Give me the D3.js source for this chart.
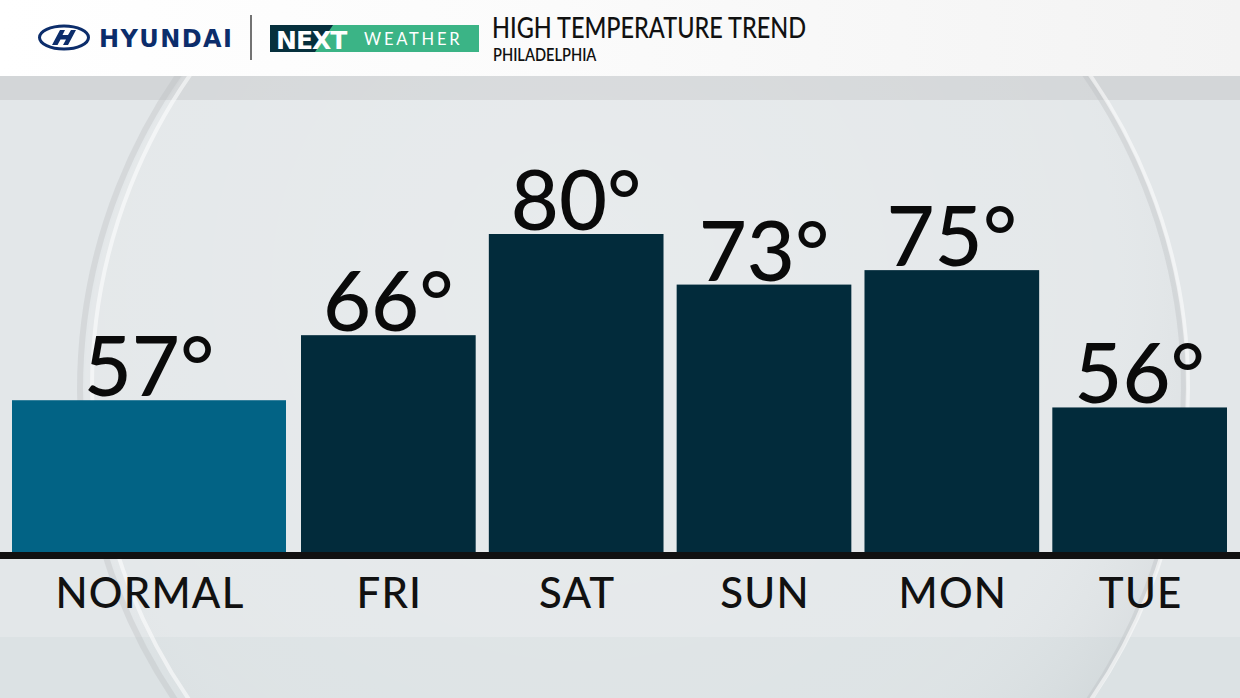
<!DOCTYPE html>
<html><head><meta charset="utf-8">
<script src="https://cdn.jsdelivr.net/npm/d3@7"></script>
<style>html,body{margin:0;padding:0;background:#e4e8ea;overflow:hidden}svg{display:block}</style>
</head><body><svg id="c" width="1240" height="698"></svg>
<script>
const categories = ["NORMAL","FRI","SAT","SUN","MON","TUE"];
const highs = [57,66,80,73,75,56];
const valueLabels = highs.map(v => v + "°");
const title = "HIGH TEMPERATURE TREND";
const subtitle = "PHILADELPHIA";

const W = 1240, H = 698;
const svg = d3.select("#c");
const defs = svg.append("defs");

const hg = defs.append("linearGradient").attr("id","hdr").attr("x1","0").attr("x2","1");
hg.append("stop").attr("offset","0").attr("stop-color","#ffffff");
hg.append("stop").attr("offset","0.45").attr("stop-color","#fbfbfb");
hg.append("stop").attr("offset","1").attr("stop-color","#f3f3f3");

const rg = defs.append("radialGradient").attr("id","glass").attr("cx","0.45").attr("cy","0.4").attr("r","0.6");
rg.append("stop").attr("offset","0").attr("stop-color","#ffffff").attr("stop-opacity",0.18);
rg.append("stop").attr("offset","0.8").attr("stop-color","#ffffff").attr("stop-opacity",0.05);
rg.append("stop").attr("offset","1").attr("stop-color","#9aa2a6").attr("stop-opacity",0.12);

defs.append("clipPath").attr("id","below").append("rect").attr("x",0).attr("y",76).attr("width",W).attr("height",H-76);

// background regions
svg.append("rect").attr("x",0).attr("y",76).attr("width",W).attr("height",24).attr("fill","#d3d6d8");
svg.append("rect").attr("x",0).attr("y",100).attr("width",W).attr("height",537).attr("fill","#e3e7e9");
svg.append("rect").attr("x",0).attr("y",637).attr("width",W).attr("height",H-637).attr("fill","#dce2e4");

// glass sphere decoration
const gs = svg.append("g").attr("clip-path","url(#below)");
gs.append("circle").attr("cx",635).attr("cy",390).attr("r",550).attr("fill","url(#glass)");
gs.append("circle").attr("cx",632).attr("cy",390).attr("r",552).attr("fill","none").attr("stroke","#b9bec1").attr("stroke-opacity",0.35).attr("stroke-width",6);
gs.append("circle").attr("cx",640).attr("cy",388).attr("r",548).attr("fill","none").attr("stroke","#ffffff").attr("stroke-opacity",0.55).attr("stroke-width",4);

// header
svg.append("rect").attr("x",0).attr("y",0).attr("width",W).attr("height",76).attr("fill","url(#hdr)");

// Hyundai logo
const hy = svg.append("g");
hy.append("ellipse").attr("cx",64).attr("cy",37.5).attr("rx",24.5).attr("ry",11.5).attr("fill","none").attr("stroke","#0c2d6b").attr("stroke-width",3);
hy.append("path").attr("d","M52,45 L60,30 L65,30 L62.5,35 L68,35 L71,30 L76,30 L68,45 L63,45 L66,39.5 L60.5,39.5 L57.5,45 Z").attr("fill","#0c2d6b");
hy.append("text").attr("x",99).attr("y",47).text("HYUNDAI")
  .attr("font-family","DejaVu Sans").attr("font-weight","bold").attr("font-size",24).attr("letter-spacing",1.4).attr("fill","#0c2d6b");
svg.append("line").attr("x1",251).attr("x2",251).attr("y1",15).attr("y2",60).attr("stroke","#444").attr("stroke-width",1.5);

// NEXT WEATHER logo
svg.append("rect").attr("x",270).attr("y",25).attr("width",209).attr("height",27).attr("fill","#3bb486");
svg.append("path").attr("d","M270,25 L333,25 L315,52 L270,52 Z").attr("fill","#06303d");
svg.append("text").attr("x",276).attr("y",48.5).text("NEXT")
  .attr("font-family","DejaVu Sans").attr("font-weight","bold").attr("font-size",25).attr("letter-spacing",-1).attr("fill","#ffffff");
svg.append("text").attr("x",364).attr("y",45).text("WEATHER")
  .attr("font-family","Lato").attr("font-weight","normal").attr("font-size",16.5).attr("letter-spacing",2.8).attr("fill","#ffffff");

// title
svg.append("text").attr("transform","translate(492,38) scale(0.81,1)").text(title)
  .attr("font-family","Lato").attr("font-weight","500").attr("font-size",29).attr("fill","#111");
svg.append("text").attr("transform","translate(493,61) scale(0.86,1)").text(subtitle)
  .attr("font-family","Lato").attr("font-weight","600").attr("font-size",17).attr("fill","#111");

// scales
const baseY = 552;
const y = d3.scaleLinear().domain([36, 80]).range([baseY, 234]);
const xNormal = d3.scaleBand().domain(categories.slice(0,1)).range([12, 286]);
const xDays = d3.scaleBand().domain(categories.slice(1)).range([301, 1227]).paddingInner(0.07).paddingOuter(0);
const xPos = c => c === categories[0] ? xNormal(c) : xDays(c);
const bw = c => c === categories[0] ? xNormal.bandwidth() : xDays.bandwidth();
const data = categories.map((c,i) => ({c, v: highs[i], label: valueLabels[i]}));

const bars = svg.append("g");
bars.selectAll("rect").data(data).join("rect")
  .attr("x", d => xPos(d.c)).attr("width", d => bw(d.c))
  .attr("y", d => y(d.v)).attr("height", d => baseY - y(d.v))
  .attr("fill", (d,i) => i === 0 ? "#026385" : "#022b3b");

svg.append("g").selectAll("text").data(data).join("text")
  .attr("x", d => xPos(d.c) + bw(d.c)/2).attr("y", d => y(d.v) - 4)
  .attr("text-anchor","middle").text(d => d.label)
  .attr("font-family","Lato").attr("font-weight","500").attr("font-size",83).attr("fill","#0a0a0a");

// baseline
svg.append("rect").attr("x",0).attr("y",baseY).attr("width",W).attr("height",7).attr("fill","#111");

// category labels
svg.append("g").selectAll("text").data(data).join("text")
  .attr("x", d => xPos(d.c) + bw(d.c)/2 + 1).attr("y", 608)
  .attr("text-anchor","middle").text(d => d.c)
  .attr("font-family","Lato").attr("font-weight","500").attr("font-size",42).attr("letter-spacing",1.2).attr("fill","#111");
</script></body></html>
